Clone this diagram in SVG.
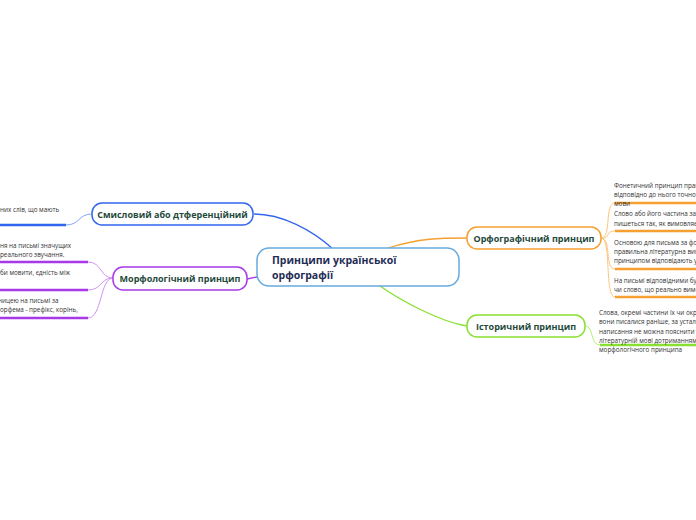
<svg xmlns="http://www.w3.org/2000/svg" width="696" height="520" viewBox="0 0 696 520">
<style>
.node{fill:#fff;stroke-width:1.5}
.bt{font-family:"Open Sans","Noto Sans",sans-serif;font-weight:bold;font-size:9px;fill:#1f4a3c;text-anchor:middle}
.ct{font-family:"Open Sans","Noto Sans",sans-serif;font-weight:bold;font-size:10.5px;fill:#1f2d55}
.st{font-family:"Open Sans","Noto Sans",sans-serif;font-size:6.3px;fill:#333}
.c{fill:none;stroke-width:1.3}
.u{fill:none;stroke-width:2.4}
.thin{fill:none;stroke-width:0.9}
</style>
<rect width="696" height="520" fill="#fff"/>
<g id="connectors">
<path class="c" stroke="#3366ee" d="M333,249 C312,230 282,214 254,214"/>
<path class="c" stroke="#a838e8" d="M247,279 L257,277"/>
<path class="c" stroke="#f5a030" d="M388,248 C420,238 440,238 467,238"/>
<path class="c" stroke="#88e030" d="M380,286 C400,300 440,322 467,326"/>
<path class="thin" stroke="#7799ff" d="M92,214 C78,214 80,225 66,225"/>
<path class="u" stroke="#3366ee" d="M66,225 L0,225"/>
<path class="thin" stroke="#cc88f0" d="M113,278 C100,278 102,262 88,262"/>
<path class="thin" stroke="#cc88f0" d="M113,278 C100,278 102,290 88,290"/>
<path class="thin" stroke="#cc88f0" d="M113,278 C100,278 102,318 88,318"/>
<path class="u" stroke="#a838e8" d="M88,262 L0,262 M88,290 L0,290 M88,318 L0,318"/>
<path class="thin" stroke="#fcc070" d="M601,238 C612,238 604,203 615,203"/>
<path class="thin" stroke="#fcc070" d="M601,238 C612,238 604,231 615,231"/>
<path class="thin" stroke="#fcc070" d="M601,238 C612,238 604,269 615,269"/>
<path class="thin" stroke="#fcc070" d="M601,238 C612,238 604,297 615,297"/>
<path class="u" stroke="#f5a030" d="M615,203 L696,203 M615,231 L696,231 M615,269 L696,269 M615,297 L696,297"/>
<path class="thin" stroke="#aaf060" d="M585,326 C594,326 590,345 600,345"/>
<path class="u" stroke="#88e030" d="M600,345 L696,345"/>
</g>
<g id="central">
<rect class="node" x="257" y="248" width="202" height="38" rx="12" stroke="#66aadd"/>
<text class="ct" x="272" y="264">Принципи української</text>
<text class="ct" x="272" y="279">орфографії</text>
</g>
<g id="smyslovyi">
<rect class="node" x="92" y="203" width="161" height="22" rx="10" stroke="#3366ee"/>
<text class="bt" x="172.5" y="217.5">Смисловий або дтференційний</text>
</g>
<g id="smyslovyi-text">
<text class="st" x="0" y="212">них слів, що мають</text>
</g>
<g id="morfolohichnyi">
<rect class="node" x="113" y="267" width="134" height="23" rx="10" stroke="#a838e8"/>
<text class="bt" x="180" y="281.5">Морфологічний принцип</text>
</g>
<g id="morf-texts">
<text class="st" x="0" y="248">ня на письмі значущих</text>
<text class="st" x="0" y="257">реального звучання.</text>
<text class="st" x="0" y="275">би мовити, єдність між</text>
<text class="st" x="-2" y="303">ницею на письмі за</text>
<text class="st" x="0" y="312">орфема - префікс, корінь,</text>
</g>
<g id="orfohrafichnyi">
<rect class="node" x="467" y="227" width="134" height="22" rx="10" stroke="#f5a030"/>
<text class="bt" x="534" y="241.5">Орфографічний принцип</text>
</g>
<g id="orf-texts">
<text class="st" x="614" y="188">Фонетичний принцип прав</text>
<text class="st" x="614" y="197">відповідно до нього точно с</text>
<text class="st" x="614" y="206">мови</text>
<text class="st" x="614" y="216">Слово або його частина за</text>
<text class="st" x="614" y="226">пишеться так, як вимовляє</text>
<text class="st" x="614" y="245">Основою для письма за фо</text>
<text class="st" x="614" y="254">правильна літературна вим</text>
<text class="st" x="614" y="263">принципом відповідають у</text>
<text class="st" x="614" y="283">На письмі відповідними бу</text>
<text class="st" x="614" y="292">чи слово, що реально вимо</text>
</g>
<g id="istorychnyi">
<rect class="node" x="467" y="315" width="118" height="22" rx="10" stroke="#88e030"/>
<text class="bt" x="526" y="329.5">Історичний принцип</text>
</g>
<g id="ist-text">
<text class="st" x="599" y="315">Слова, окремі частини їх чи окре</text>
<text class="st" x="599" y="324">вони писалися раніше, за усталє</text>
<text class="st" x="599" y="334">написання не можна пояснити у</text>
<text class="st" x="599" y="343">літературній мові дотриманням</text>
<text class="st" x="599" y="352">морфологічного принципа</text>
</g>
</svg>
